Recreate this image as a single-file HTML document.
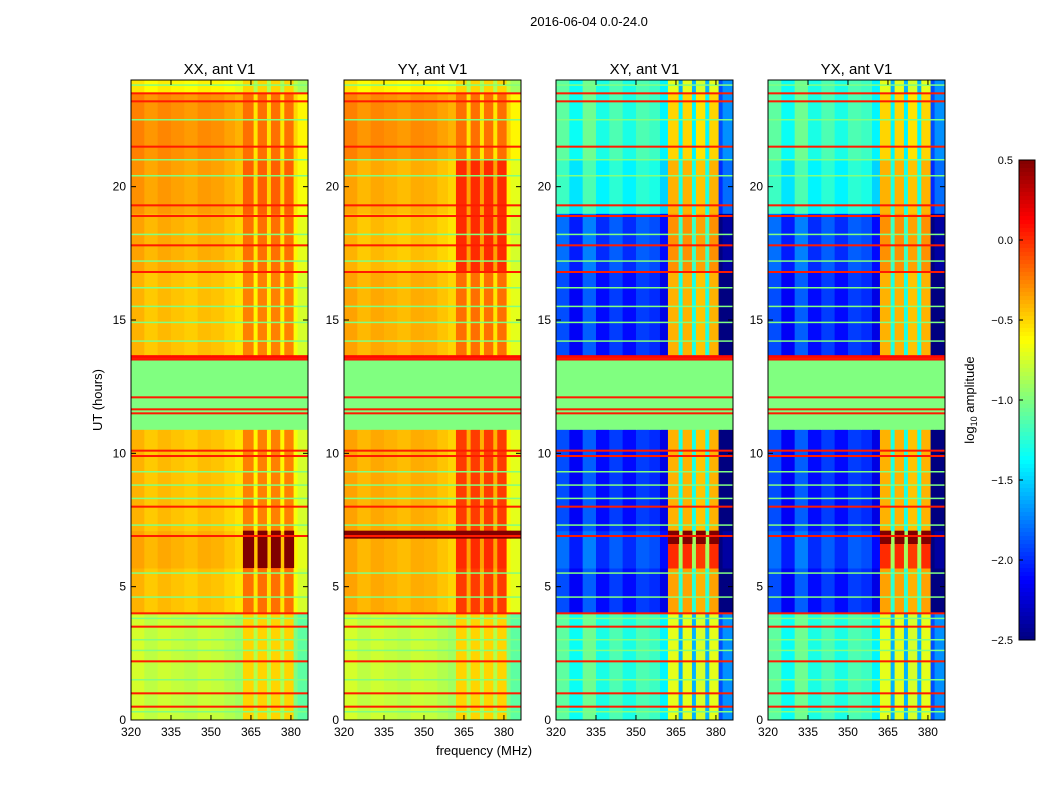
<!DOCTYPE html>
<html><head><meta charset="utf-8"><style>
body{margin:0;background:#fff;font-family:"Liberation Sans",sans-serif}
svg text{font-family:"Liberation Sans",sans-serif}
</style></head><body>
<svg id="fig" width="1050" height="800" xmlns="http://www.w3.org/2000/svg">
<rect width="1050" height="800" fill="#fff"/>
<text x="589" y="26" font-size="13" text-anchor="middle">2016-06-04 0.0-24.0</text>
<text x="102" y="400" font-size="13" text-anchor="middle" transform="rotate(-90 102 400)">UT (hours)</text>
<text x="484" y="755" font-size="13" text-anchor="middle">frequency (MHz)</text>
<text x="974" y="400" font-size="13" text-anchor="middle" transform="rotate(-90 974 400)">log<tspan font-size="9" dy="3">10</tspan><tspan dy="-3"> amplitude</tspan></text>
</svg>
<script>
const freqEdges=[320,325,330,335,340,345,350,355,359,362,366,367.5,371,372.5,376,377.5,381,382.5,386.4];
const bandStarts=[0,4,5.7,7.1,10.9,13.5,13.7,16.8,19,21,23.5,24];
const panelTitles=["XX, ant V1","YY, ant V1","XY, ant V1","YX, ant V1"];
const leftXX=[-0.8,-0.45,-0.4,-0.45,-1.0,0.1,-0.45,-0.4,-0.35,-0.3,-0.6];
const rightXX=[-0.6,-0.3,-0.2,-0.35,-1.0,0.1,-0.35,-0.3,-0.25,-0.3,-0.6];
const leftYY=[-0.8,-0.4,-0.4,-0.4,-1.0,0.1,-0.4,-0.45,-0.4,-0.3,-0.6];
const rightYY=[-0.6,-0.15,-0.1,-0.15,-1.0,0.1,-0.3,-0.1,-0.1,-0.3,-0.6];
const leftXY=[-1.2,-2.0,-1.9,-2.0,-1.0,0.1,-2.0,-1.9,-1.3,-1.2,-1.2];
const rightXY=[-0.8,-0.45,-0.1,-0.5,-1.0,0.1,-0.5,-0.4,-0.5,-0.6,-0.8];
const leftYX=[-1.2,-2.0,-1.9,-2.0,-1.0,0.1,-2.0,-1.9,-1.3,-1.2,-1.2];
const rightYX=[-0.8,-0.45,-0.1,-0.5,-1.0,0.1,-0.5,-0.4,-0.5,-0.6,-0.8];
const colOffXX=[0.05,-0.02,0.03,0,-0.03,0.02,0,-0.05,-0.1,0.1,-0.25,0.1,-0.25,0.1,-0.25,0.1,-0.2,-0.3];
const colOffXY=[0.1,-0.15,0.15,-0.1,0.05,-0.1,0.05,0,-0.2,0.1,-0.8,0.1,-0.8,0.05,-0.8,0.1,-0.7,-0.5];
const redLines=[0.5,1.0,2.2,3.5,4.0,6.9,8.0,9.9,10.1,11.5,11.65,12.1,13.55,16.8,17.8,18.9,19.3,21.5,23.2,23.5];
const greenLines=[0.3,1.5,2.6,3.0,3.8,4.6,5.5,7.3,8.3,8.8,9.3,14.2,14.9,15.5,16.2,17.2,18.2,20.4,21.0,22.5,23.8];
const boxStart=[5.7,6.8,6.6,6.6];
const boxEnd=[7.1,7.1,7.1,7.1];
const yTicks=[0,5,10,15,20];
const xTicks=[320,335,350,365,380];
const cbTicks=["0.5","0.0","−0.5","−1.0","−1.5","−2.0","−2.5"];
const cbVals=[0.5,0,-0.5,-1,-1.5,-2,-2.5];

const NS="http://www.w3.org/2000/svg";
const svg=document.getElementById('fig');
function el(t,a,p){const e=document.createElementNS(NS,t);for(const k in a)e.setAttribute(k,a[k]);(p||svg).appendChild(e);return e;}
function jet(v){let t=(v+2.5)/3;t=Math.max(0,Math.min(1,t));
 const c=x=>Math.round(255*Math.max(0,Math.min(1,1.5-Math.abs(4*t-x))));
 return `rgb(${c(3)},${c(2)},${c(1)})`;}
const panelX=[131,344,556,768], pw=177, topY=80, botY=720;
const lefts=[leftXX,leftYY,leftXY,leftYX], rights=[rightXX,rightYY,rightXY,rightYX];
const offs=[colOffXX,colOffXX,colOffXY,colOffXY];
panelTitles.forEach((title,p)=>{
 const x0=panelX[p];
 const xs=f=>x0+(f-320)*pw/66.4;
 const ys=h=>botY-h*(botY-topY)/24;
 const g=el('g',{});
 
 
 for(let b=0;b<bandStarts.length-1;b++){
  for(let c=0;c<freqEdges.length-1;c++){
   const f=freqEdges[c];
   const inRight=(f>=362 && f<381);
   let v=inRight ? rights[p][b] : lefts[p][b];
   if(v<0.4 && v!=-1.0 && v!=0.1) v+=offs[p][c];
   const r=el('rect',{x:xs(f),y:ys(bandStarts[b+1]),width:xs(freqEdges[c+1])-xs(f)+0.5,height:ys(bandStarts[b])-ys(bandStarts[b+1])+0.5,fill:jet(v)},g);
   
   
  }
 }
 for(let c=0;c<freqEdges.length-1;c++){
  const f=freqEdges[c];
  const inRight=(f>=362 && f<381);
  if(!inRight && p!=1) continue;
  if(inRight && offs[p][c]<-0.1 && p!=1) continue;
  const r=el('rect',{x:xs(f),y:ys(boxEnd[p]),width:xs(freqEdges[c+1])-xs(f)+0.5,height:ys(boxStart[p])-ys(boxEnd[p]),fill:jet(0.5)},g);
  
  
 }
 greenLines.forEach(h=>{const r=el('rect',{x:x0,y:ys(h)-1,width:pw,height:1.5,fill:jet(-1.0)},g);
  
  });
 redLines.forEach(h=>{const r=el('rect',{x:x0,y:ys(h)-1,width:pw,height:2,fill:jet(0.05)},g);
  
  });
 const fr=el('rect',{x:x0,y:topY,width:pw,height:botY-topY,fill:'none',stroke:'#000','stroke-width':1});
 
 
 const tt=el('text',{x:x0+pw/2,y:74,'font-size':15,'text-anchor':'middle'});tt.textContent=title;
 
 
 yTicks.forEach(h=>{const y=ys(h);
  el('line',{x1:x0,x2:x0+5,y1:y,y2:y,stroke:'#000'});el('line',{x1:x0+pw-5,x2:x0+pw,y1:y,y2:y,stroke:'#000'});
  const t=el('text',{x:x0-5,y:y+4,'font-size':12,'text-anchor':'end'});t.textContent=h;
  
  });
 xTicks.forEach(f=>{const x=xs(f);
  el('line',{x1:x,x2:x,y1:botY,y2:botY-5,stroke:'#000'});el('line',{x1:x,x2:x,y1:topY,y2:topY+5,stroke:'#000'});
  const t=el('text',{x:x,y:botY+16,'font-size':12,'text-anchor':'middle'});t.textContent=f;
  
  });
});
const cbY=v=>160+(0.5-v)*160;
for(let i=0;i<120;i++){const v=0.5-i*3/120;
 const r=el('rect',{x:1019,y:cbY(v),width:16,height:4.5,fill:jet(v-0.0125)});
 
 }
const cf=el('rect',{x:1019,y:160,width:16,height:480,fill:'none',stroke:'#000'});


cbVals.forEach((v,i)=>{const y=cbY(v);
 el('line',{x1:1019,x2:1023,y1:y,y2:y,stroke:'#000'});
 const t=el('text',{x:1013,y:y+4,'font-size':11,'text-anchor':'end'});t.textContent=cbTicks[i];
 
 });
</script>
</body></html>
